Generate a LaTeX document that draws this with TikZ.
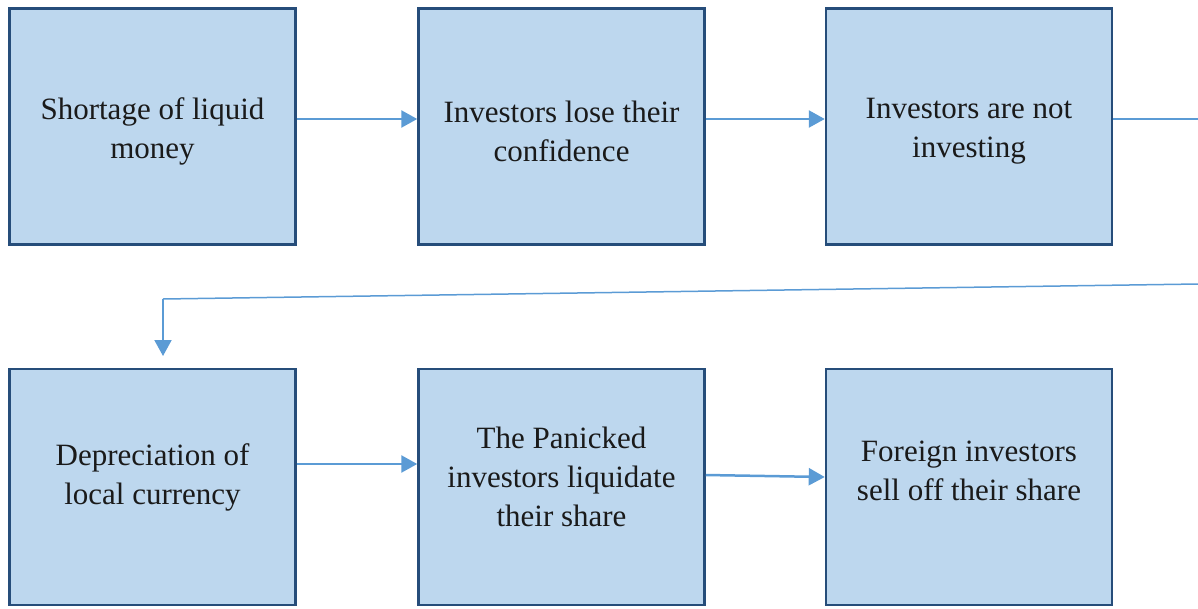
\documentclass[tikz,border=0pt]{standalone}
\usepackage{fontspec}
\setmainfont{Liberation Serif}
\usetikzlibrary{arrows.meta}
\definecolor{boxfill}{HTML}{BDD7EE}
\definecolor{boxline}{HTML}{264D7A}
\definecolor{conn}{HTML}{5B9BD5}
\definecolor{txt}{HTML}{1A1A1A}
\tikzset{
  stepbox/.style={draw=boxline, line width=2.5pt, fill=boxfill, minimum width=286pt, minimum height=236pt, inner sep=0pt},
  boxtext/.style={text=txt, align=center, font=\fontsize{31}{39}\selectfont, inner sep=0pt},
  arr/.style={draw=conn, line width=2.5pt, -{Triangle[length=16pt,width=17pt]}},
  thin/.style={draw=conn, line width=1.5pt}
}
\begin{document}
\begin{tikzpicture}[x=1pt,y=-1pt]
\useasboundingbox (0,0) rectangle (1198,608);
\node[stepbox, label={[boxtext, yshift=-5pt]center:Shortage of liquid\\money}] (b1) at (152.5,126.5) {};
\node[stepbox, label={[boxtext, yshift=-5pt]center:Investors lose their\\confidence}] (b2) at (561.5,126.5) {};
\node[stepbox, label={[boxtext, yshift=-5pt]center:Investors are not\\investing}] (b3) at (969,126.5) {};
\node[stepbox, label={[boxtext, yshift=10pt]center:Depreciation of\\local currency}] (b4) at (152.5,487) {};
\node[stepbox, label={[boxtext, yshift=10pt]center:The Panicked\\investors liquidate\\their share}] (b5) at (561.5,487) {};
\node[stepbox, label={[boxtext, yshift=16pt]center:Foreign investors\\sell off their share}] (b6) at (969,487) {};
\coordinate (e1) at (1198,119);
\coordinate (e2) at (1198,284);
\coordinate (bend) at (163,299);
\coordinate (tipA) at (163,356);
\draw[arr] (b1.east |- 0,119) -- (b2.west |- 0,119);
\draw[arr] (b2.east |- 0,119) -- (b3.west |- 0,119);
\draw[thin] (b3.east |- e1) -- (e1);
\draw[thin] (e2) -- (bend);
\draw[arr, line width=2pt] (bend) -- (tipA);
\draw[arr] (b4.east |- 0,464) -- (b5.west |- 0,464);
\draw[arr] (b5.east |- 0,475) -- (b6.west |- 0,477);
\end{tikzpicture}
\end{document}
